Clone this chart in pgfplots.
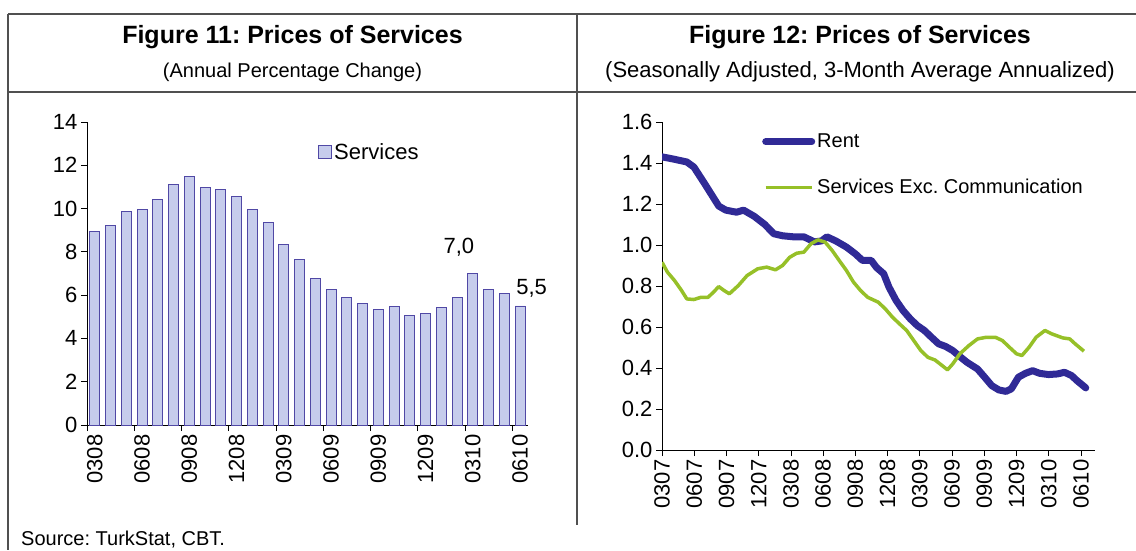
\documentclass[border=0pt]{standalone}
\usepackage{pgfplots}
\pgfplotsset{compat=1.18}
\usepackage{fontspec}
\setmainfont{Liberation Sans}
\frenchspacing
\definecolor{barfill}{RGB}{198,204,236}
\definecolor{baredge}{RGB}{80,72,165}
\definecolor{rentblue}{RGB}{48,42,150}
\definecolor{svgreen}{RGB}{150,192,40}
\definecolor{framegray}{RGB}{80,80,80}
\newcommand{\tickfont}{\fontsize{22}{26}\selectfont}
\newcommand{\legfont}{\fontsize{20}{24}\selectfont}
\begin{document}
\begin{tikzpicture}
\useasboundingbox (0pt,0pt) rectangle (1136pt,550pt);
% frame
\draw[framegray, line width=1.3pt] (8pt,536pt) -- (1136pt,536pt);
\draw[framegray, line width=1.3pt] (8pt,458pt) -- (1136pt,458pt);
\draw[framegray, line width=1.3pt] (8pt,536pt) -- (8pt,0pt);
\draw[framegray, line width=1.3pt] (577pt,536pt) -- (577pt,25pt);
% titles
\node[font=\bfseries\fontsize{25}{29}\selectfont] at (292.5pt,513pt) {Figure 11: Prices of Services};
\node[font=\fontsize{20}{24}\selectfont] at (292.5pt,478pt) {(Annual Percentage Change)};
\node[font=\bfseries\fontsize{25}{29}\selectfont] at (860pt,513pt) {Figure 12: Prices of Services};
\node[font=\fontsize{22}{26}\selectfont] at (860pt,478pt) {(Seasonally Adjusted, 3-Month Average Annualized)};
\node[font=\fontsize{20}{24}\selectfont, anchor=west, inner sep=0pt] at (21pt,10pt) {Source: TurkStat, CBT.};

% left chart
\begin{axis}[
  at={(87pt,125pt)}, anchor=south west,
  scale only axis, width=441pt, height=303pt,
  xmin=-0.5, xmax=27.5, ymin=0, ymax=14,
  clip=false,
  axis x line*=bottom, axis y line*=left,
  axis line style={black, line width=0.8pt},
  tick align=outside, major tick length=6pt, minor tick length=6pt,
  tick style={black, line width=0.8pt},
  ytick={0,2,...,14},
  xtick={0,3,...,27},
  xticklabels={0308,0608,0908,1208,0309,0609,0909,1209,0310,0610},
  minor xtick={-0.5,2.5,...,26.5},
  every major x tick/.append style={draw=none},
  x tick label style={rotate=90, anchor=east},
  tick label style={font=\tickfont},
  /pgf/number format/assume math mode=true,
  ybar, bar width=9.9pt,
  legend style={at={(0.524,0.90)}, anchor=west, draw=none, fill=none, font=\tickfont, inner sep=0pt},
  legend image code/.code={\draw[#1] (0pt,-6pt) rectangle (13pt,7pt);},
]
\addplot[fill=barfill, draw=baredge, line width=0.9pt] coordinates {
(0,8.95) (1,9.23) (2,9.88) (3,9.94) (4,10.43) (5,11.12) (6,11.48) (7,10.96)
(8,10.89) (9,10.54) (10,9.94) (11,9.35) (12,8.35) (13,7.63) (14,6.78) (15,6.27)
(16,5.90) (17,5.61) (18,5.32) (19,5.49) (20,5.07) (21,5.15) (22,5.42) (23,5.90)
(24,7.0) (25,6.27) (26,6.09) (27,5.5)
};
\addlegendentry{Services}
\node[font=\tickfont, anchor=south, inner sep=0pt, xshift=-14pt, yshift=17pt] at (axis cs:24,7.0) {7,0};
\node[font=\tickfont, anchor=south west, inner sep=0pt, xshift=-4pt, yshift=8pt] at (axis cs:27,5.5) {5,5};
\end{axis}

% right chart
\begin{axis}[
  at={(662pt,100pt)}, anchor=south west,
  scale only axis, width=433pt, height=328pt,
  xmin=0, xmax=40.3, ymin=0, ymax=1.6,
  axis x line*=bottom, axis y line*=left,
  axis line style={black, line width=0.8pt},
  tick align=outside, major tick length=6pt,
  tick style={black, line width=0.8pt},
  ytick={0,0.2,0.4,0.6,0.8,1.0,1.2,1.4,1.6},
  yticklabel style={/pgf/number format/.cd, fixed, fixed zerofill, precision=1},
  xtick={0,3,...,39},
  xticklabels={0307,0607,0907,1207,0308,0608,0908,1208,0309,0609,0909,1209,0310,0610},
  x tick label style={rotate=90, anchor=east},
  tick label style={font=\tickfont},
  /pgf/number format/assume math mode=true,
  legend style={at={(0.231,0.97)}, anchor=north west, draw=none, fill=none, font=\legfont, inner sep=0pt, row sep=26pt},
  legend cell align=left,
  legend image code/.code={\draw[#1] (0pt,0pt) -- (46pt,0pt);},
]
\addplot[rentblue, line width=7pt, line join=round, line cap=round] coordinates {
(0.00,1.43) (0.99,1.42) (2.31,1.405) (2.97,1.38) (3.96,1.30) (5.28,1.19) (5.94,1.17)
(6.93,1.16) (7.59,1.17) (8.58,1.14) (9.57,1.10) (10.40,1.055) (11.22,1.045) (12.21,1.04)
(13.20,1.04) (14.19,1.015) (14.85,1.02) (15.35,1.04) (16.17,1.02) (17.16,0.99) (17.99,0.957)
(18.65,0.925) (19.47,0.925) (19.97,0.89) (20.63,0.86) (21.12,0.795) (21.78,0.73) (22.44,0.68)
(23.10,0.64) (23.76,0.607) (24.42,0.583) (25.08,0.55) (25.74,0.518) (26.40,0.505) (27.06,0.485)
(27.72,0.456) (28.38,0.428) (29.37,0.395) (30.03,0.355) (30.69,0.314) (31.35,0.293) (32.01,0.286)
(32.51,0.298) (33.17,0.355) (33.83,0.374) (34.49,0.387) (35.15,0.374) (35.97,0.368) (36.80,0.371)
(37.46,0.379) (38.12,0.363) (38.61,0.339) (39.44,0.303)
};
\addlegendentry{Rent}
\addplot[svgreen, line width=3.5pt, line join=round] coordinates {
(0.00,0.916) (0.50,0.868) (1.16,0.827) (1.82,0.778) (2.31,0.737) (2.97,0.734) (3.63,0.745)
(4.29,0.745) (4.79,0.77) (5.28,0.797) (5.78,0.778) (6.27,0.762) (7.10,0.802) (7.92,0.851)
(8.91,0.884) (9.74,0.892) (10.56,0.879) (11.22,0.90) (11.88,0.94) (12.54,0.96) (13.20,0.965)
(13.86,1.006) (14.52,1.025) (15.18,1.014) (15.84,0.973) (16.50,0.924) (17.16,0.876) (17.82,0.819)
(18.48,0.778) (19.14,0.745) (20.13,0.721) (20.79,0.688) (21.45,0.648) (22.11,0.615) (22.77,0.583)
(23.43,0.534) (24.09,0.485) (24.75,0.452) (25.41,0.439) (26.07,0.412) (26.57,0.391) (27.06,0.42)
(27.72,0.469) (28.55,0.509) (29.37,0.542) (30.20,0.55) (31.02,0.55) (31.68,0.534) (32.34,0.501)
(33.00,0.469) (33.50,0.461) (34.16,0.501) (34.82,0.55) (35.64,0.583) (36.30,0.566) (37.29,0.547)
(37.95,0.542) (38.45,0.518) (39.27,0.482)
};
\addlegendentry{Services Exc. Communication}
\end{axis}
\end{tikzpicture}
\end{document}
